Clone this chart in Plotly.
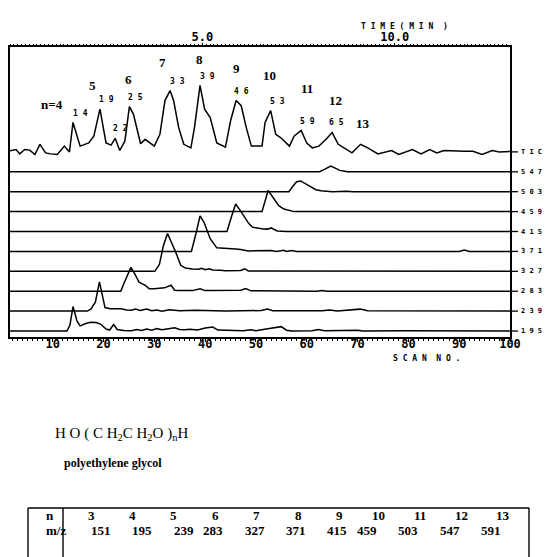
import plotly.graph_objects as go

# ---------------- data (scan number, relative intensity in trace-spacing units) -------------
tic = [(1, 0.03), (2.8, 0.12), (3.5, -0.1), (4.5, 0.12), (5.5, 0.09), (6.5, -0.13), (7.5, 0.38),
       (8.6, -0.05), (9.6, -0.1), (10.9, -0.13), (12.3, 0.29), (13.3, 0), (14, 1.48), (15.4, 0.29),
       (17.1, 0.45), (18.1, 0.79), (19.3, 2.15), (20.5, 0.45), (21.5, 0.34), (22.3, 0.68), (23.2, 0.07),
       (24.2, 0.54), (25.1, 2.27), (25.9, 1.89), (27.3, 0.41), (28.2, 0.63), (30.0, 0.29), (31.1, 0.88),
       (32.1, 2.58), (33.1, 3.08), (33.8, 2.58), (34.8, 1.22), (35.8, 0.38), (37.2, 0.2), (37.9, 1.22),
       (39.0, 3.34), (39.9, 2.15), (41.0, 1.73), (42.3, 0.45), (44.0, 0.24), (45.0, 1.55), (46.1, 2.58),
       (47.1, 2.32), (48.1, 1.22), (49.1, 0.29), (51.2, 0.29), (51.8, 1.48), (52.9, 2.07), (53.9, 0.88),
       (54.9, 0.71), (56.6, 0.29), (57.5, 0.79), (58.9, 1.08), (60.0, 0.45), (61.1, 0.2), (62.4, 0.29),
       (63.8, 0.63), (65.0, 0.97), (66.2, 0.38), (67.9, 0.12), (68.9, -0.05), (70.6, 0.38), (72.0, 0.2),
       (74.0, -0.1), (75.4, 0), (76.7, 0.07), (78.1, -0.13), (79.5, 0), (80.8, 0.12), (82.5, -0.1),
       (84.2, 0.12), (85.6, -0.05), (87.0, 0.07), (91.0, 0.03), (92.7, 0.03), (94.5, -0.13), (96.5, 0.07),
       (97.9, 0), (99.2, 0.03), (100, 0.02)]
mz547 = [(1, 0), (62.5, 0), (63.5, 0.12), (64.7, 0.29), (65.5, 0.2), (66.5, 0.07), (67.5, 0.03), (68, 0), (100, 0)]
mz503 = [(1, 0), (56.5, 0), (57.2, 0.25), (58, 0.5), (58.8, 0.54), (59.8, 0.4), (60.8, 0.22), (61.8, 0.1),
         (62.8, 0.05), (64, 0.03), (65, 0), (68, 0.02), (69, 0), (100, 0)]
mz459 = [(1, 0), (51.2, 0), (52.4, 1.06), (53.5, 0.64), (54.5, 0.3), (55.5, 0.13), (57, 0.05), (57.5, 0), (100, 0)]
mz415 = [(1, 0), (44.3, 0), (45.2, 0.75), (46, 1.38), (46.8, 1.1), (47.8, 0.67), (48.6, 0.4), (49.3, 0.22),
         (50.5, 0.15), (51.5, 0.13), (52.3, 0.12), (53, 0.18), (53.6, 0.1), (54.2, 0.03), (56, 0), (100, 0)]
mz371 = [(1, 0), (37.3, 0), (38.2, 0.9), (39, 1.78), (39.8, 1.45), (41, 0.64), (42.3, 0.18), (43.5, 0.17),
         (45, 0.15), (46, 0.12), (47, 0.1), (48.5, 0.02), (53, 0.05), (54, 0), (55.5, 0.06), (56, 0),
         (57, 0.04), (58, 0), (90, 0), (91, 0.07), (92, 0), (100, 0)]
mz327 = [(1, 0), (30.1, 0), (31, 0.35), (31.8, 1.3), (32.6, 1.9), (33.3, 1.5), (34.2, 0.97), (35.2, 0.3),
         (36.1, 0.17), (37.5, 0.12), (38.7, 0.1), (39.3, 0.15), (40, 0.08), (40.8, 0.13), (41.5, 0.07),
         (43, 0.05), (44, 0.03), (47, 0.04), (47.8, 0.13), (48.5, 0.02), (100, 0)]
mz283 = [(1, 0), (23.4, 0), (24.2, 0.5), (25.4, 1.2), (26.2, 0.85), (27, 0.45), (28.3, 0.28), (29, 0.12),
         (30, 0.12), (31, 0.15), (32, 0.17), (33.3, 0.3), (34, 0.05), (35, 0.03), (36.5, 0.05), (37.5, 0.03),
         (39, 0.12), (40, 0.03), (47, 0.05), (48, 0.13), (49, 0.02), (62, 0), (63, 0.04), (64, 0), (100, 0)]
mz239 = [(1, 0), (16.8, 0), (17.5, 0.1), (18.4, 0.45), (19.2, 1.47), (19.9, 0.6), (20.3, 0.18), (21.3, 0.12),
         (22.5, 0.1), (23.5, 0.12), (24.5, 0.06), (25.5, 0.04), (26.3, 0.1), (27.2, 0.03), (28.5, 0.1),
         (29.5, 0.02), (30.5, 0.05), (31.5, 0.0), (33, 0.07), (35, 0.02), (38, 0.04), (42, 0.03), (44, 0),
         (51, 0.03), (52.3, 0.1), (53.3, 0.02), (63, 0.02), (64.5, 0.06), (66, 0.01), (70.5, 0.1), (72, 0.02), (100, 0)]
mz195 = [(1, 0), (12.8, 0), (13.4, 0.3), (14, 1.23), (14.8, 0.5), (15.4, 0.26), (16.5, 0.38), (17.5, 0.44),
         (18.5, 0.43), (19.4, 0.35), (20.5, 0.1), (21.2, 0.05), (22, 0.33), (22.7, 0.08), (24, 0.03),
         (25.5, 0.02), (26.5, 0.08), (27.5, 0.03), (28.5, 0.1), (29.5, 0.04), (30.5, 0.12), (31.5, 0.07),
         (32.8, 0.12), (34, 0.16), (35, 0.08), (36, 0.06), (37, 0.09), (38.5, 0.05), (40, 0.15), (41.5, 0.2),
         (42.5, 0.05), (44, 0.03), (46, 0.04), (47.5, 0.02), (49, 0.06), (50, 0.01), (52, 0.1), (54, 0.18),
         (55, 0.22), (56, 0.04), (57, 0), (61, 0.02), (62.3, 0.08), (63.5, 0.01), (70, 0.04), (71, 0),
         (78, 0.04), (79, 0.01), (100, 0)]

trace_labels = ["T I C", "5 4 7", "5 0 3", "4 5 9", "4 1 5", "3 7 1", "3 2 7", "2 8 3", "2 3 9", "1 9 5"]
trace_data = [tic, mz547, mz503, mz459, mz415, mz371, mz327, mz283, mz239, mz195]
trace_offsets = [9, 8, 7, 6, 5, 4, 3, 2, 1, 0]

n_labels = ["n=4", "5", "6", "7", "8", "9", "10", "11", "12", "13"]
n_label_scan = [9.9, 17.8, 24.9, 31.7, 38.8, 46.1, 52.7, 60.0, 65.7, 71.1]
n_label_y = [11.4, 12.33, 12.66, 13.5, 13.63, 13.17, 12.83, 12.2, 11.6, 10.42]

peak_scans = [14, 19, 22, 25, 33, 39, 46, 53, 59, 65]
peak_label_scan = [15.5, 20.5, 23.4, 26.3, 34.5, 40.4, 47.2, 54.2, 60.1, 65.8]
peak_label_y = [10.93, 11.61, 10.16, 11.73, 12.53, 12.78, 12.04, 11.53, 10.52, 10.47]

scan_ticks = [10, 20, 30, 40, 50, 60, 70, 80, 90, 100]
time_ticks = [5.0, 10.0]

table_n = [3, 4, 5, 6, 7, 8, 9, 10, 11, 12, 13]
table_mz = [151, 195, 239, 283, 327, 371, 415, 459, 503, 547, 591]

# ---------------- layout helpers ----------------
W, H = 546, 557
L, R, T, B = 10, 36, 47, 220
PW, PH = W - L - R, H - T - B
SCAN_RANGE = [1.6, 100.0]
Y_RANGE = [-0.3, 14.27]


def scan_to_time(s):
    return (s - 1.6) * 5.0 / 37.86


def px(x):
    return (x - L) / PW


def py(y):
    return (H - B - y) / PH


LW = 1.5
fig = go.Figure()
for data, off in zip(trace_data, trace_offsets):
    fig.add_trace(go.Scatter(x=[p[0] for p in data], y=[p[1] + off for p in data], mode="lines",
                             line=dict(color="black", width=LW), showlegend=False, hoverinfo="skip"))

# invisible trace for top time axis
fig.add_trace(go.Scatter(x=[scan_to_time(SCAN_RANGE[0])], y=[0], xaxis="x2", mode="markers",
                         marker=dict(opacity=0), showlegend=False, hoverinfo="skip"))

ann = []
shapes = []
for lab, off in zip(trace_labels, trace_offsets):
    shapes.append(dict(type="line", xref="paper", yref="y", x0=1.0, x1=1.016, y0=off, y1=off,
                       line=dict(color="black", width=1.3)))
    ann.append(dict(x=1.0, xref="paper", y=off, yref="y", text="<b>%s</b>" % lab, showarrow=False,
                    xanchor="left", xshift=9, font=dict(family="DejaVu Sans Mono", size=7, color="black")))

for t, xs, ys in zip(n_labels, n_label_scan, n_label_y):
    ann.append(dict(x=xs, y=ys, xref="x", yref="y", text="<b>%s</b>" % t, showarrow=False,
                    font=dict(family="Liberation Serif", size=13, color="black")))
for s, xs, ys in zip(peak_scans, peak_label_scan, peak_label_y):
    ann.append(dict(x=xs, y=ys, xref="x", yref="y", text="<b>%s</b>" % " ".join(str(s)), showarrow=False,
                    font=dict(family="DejaVu Sans Mono", size=8, color="black")))

ann.append(dict(x=px(450), y=py(20), xref="paper", yref="paper", text="<b>T I M E ( M I N  )</b>",
                showarrow=False, font=dict(family="DejaVu Sans Mono", size=8, color="black")))
ann.append(dict(x=px(462), y=py(365), xref="paper", yref="paper", text="<b>S C A N  N O .</b>",
                showarrow=False, font=dict(family="DejaVu Sans Mono", size=8, color="black")))

ann.append(dict(x=px(53), y=py(445), xref="paper", yref="paper", xanchor="left",
                text="H O ( C H<sub>2</sub>C H<sub>2</sub>O )<sub>n</sub>H", showarrow=False,
                font=dict(family="Liberation Serif", size=15, color="black")))
ann.append(dict(x=px(62), y=py(472), xref="paper", yref="paper", xanchor="left",
                text="<b>polyethylene glycol</b>", showarrow=False,
                font=dict(family="Liberation Serif", size=12, color="black")))

# table
tl, tdiv, tr, ttop, tbot = 28, 63, 529, 508, 560
for x0, y0, x1, y1 in [(tl, ttop, tr, ttop), (tl, ttop, tl, tbot), (tdiv, ttop, tdiv, tbot), (tr, ttop, tr, tbot)]:
    shapes.append(dict(type="line", xref="paper", yref="paper", x0=px(x0), x1=px(x1), y0=py(y0), y1=py(y1),
                       line=dict(color="black", width=1.4)))
ann.append(dict(x=px(44), y=py(525), xref="paper", yref="paper", text="<b>n</b>", showarrow=False,
                font=dict(family="Liberation Serif", size=13, color="black")))
ann.append(dict(x=px(44), y=py(540), xref="paper", yref="paper", text="<b>m/z</b>", showarrow=False,
                font=dict(family="Liberation Serif", size=13, color="black")))
for i, (n, mz) in enumerate(zip(table_n, table_mz)):
    cx = 89 + 41.4 * i
    ann.append(dict(x=px(cx + (2 if n < 10 else 0)), y=py(525), xref="paper", yref="paper",
                    text="<b>%d</b>" % n, showarrow=False, xanchor="center",
                    font=dict(family="Liberation Serif", size=13, color="black")))
    ann.append(dict(x=px(cx), y=py(540), xref="paper", yref="paper", text="<b>%d</b>" % mz,
                    showarrow=False, font=dict(family="Liberation Serif", size=13, color="black")))

tick_font = dict(family="DejaVu Sans Mono", size=12, color="black")
fig.update_layout(
    width=W, height=H, margin=dict(l=L, r=R, t=T, b=B, pad=0),
    paper_bgcolor="white", plot_bgcolor="white",
    xaxis=dict(range=SCAN_RANGE, tickmode="array", tickvals=scan_ticks,
               ticktext=["<b>%d</b>" % v for v in scan_ticks], ticks="outside", ticklen=3,
               tickcolor="black", tickfont=tick_font, showline=True, linecolor="black", linewidth=LW,
               mirror=True, showgrid=False, zeroline=False, ticklabelstandoff=-8,
               minor=dict(tickmode="linear", tick0=0, dtick=1, ticks="outside", ticklen=2, tickcolor="black")),
    xaxis2=dict(overlaying="x", side="top", range=[scan_to_time(SCAN_RANGE[0]), scan_to_time(SCAN_RANGE[1])],
                tickmode="array", tickvals=time_ticks, ticktext=["<b>5.0</b>", "<b>10.0</b>"],
                ticks="outside", ticklen=3, tickcolor="black", tickfont=tick_font, showline=False,
                showgrid=False, zeroline=False, ticklabelstandoff=-3,
                minor=dict(tickmode="linear", tick0=0, dtick=0.1, ticks="outside", ticklen=2, tickcolor="black")),
    yaxis=dict(range=Y_RANGE, showticklabels=False, ticks="", showline=True, linecolor="black", linewidth=LW,
               mirror=True, showgrid=False, zeroline=False),
    annotations=ann, shapes=shapes, showlegend=False,
)

fig.write_html("out.html", config={"displayModeBar": False},
               post_script="document.body.style.margin='0';")
